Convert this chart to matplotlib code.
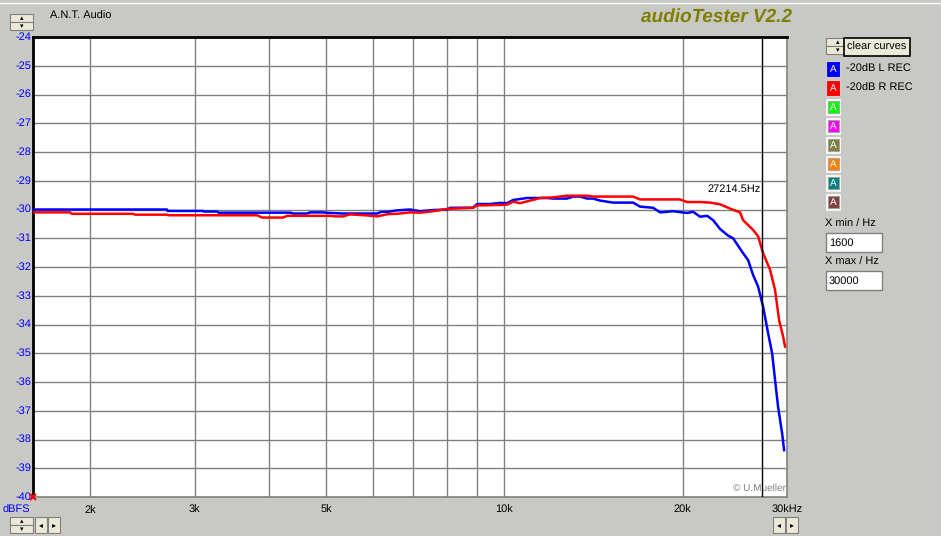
import numpy as np
import matplotlib
matplotlib.use('Agg')
import matplotlib.pyplot as plt
from matplotlib.patches import Rectangle

plt.rcParams['font.family'] = ['Liberation Sans', 'DejaVu Sans']
plt.rcParams['text.hinting'] = 'no_hinting'
plt.rcParams['text.hinting_factor'] = 1

# measured response, frequency in Hz / level in dBFS
blue_f = [1600, 2694, 2700, 3099, 3110, 3272, 3290, 4346, 4400, 4643, 4700, 4941, 5077, 5341,
          6096, 6200, 6361, 6588, 6930, 7205, 7578, 8002, 8100, 8853, 8992, 9458, 9832, 10104,
          10343, 10921, 11803, 12083, 12760, 13061, 13421, 13792, 14117, 14506, 15258, 16491,
          16944, 17824, 18320, 19264, 20344, 20824, 21398, 21990, 22509, 23131, 23861, 24328,
          25194, 25790, 26296, 26811, 27339, 27875, 28314, 28640, 28976, 29440, 29664]
blue_db = [-30.0, -30.0, -30.05, -30.05, -30.07, -30.07, -30.11, -30.11, -30.14, -30.14, -30.1,
           -30.1, -30.12, -30.14, -30.14, -30.08, -30.08, -30.03, -30.0, -30.06, -30.02, -30.0,
           -29.94, -29.94, -29.81, -29.81, -29.77, -29.78, -29.67, -29.6, -29.6, -29.62, -29.62,
           -29.55, -29.55, -29.62, -29.62, -29.69, -29.76, -29.76, -29.9, -29.94, -30.1, -30.06,
           -30.12, -30.08, -30.25, -30.22, -30.37, -30.68, -30.91, -31.0, -31.47, -31.76, -32.28,
           -32.68, -33.38, -34.3, -35.0, -35.93, -36.86, -37.79, -38.37]

red_f = [1600, 1848, 1860, 2360, 2380, 2694, 2710, 3822, 3900, 4229, 4300, 5077, 5200, 5341,
         5488, 5817, 6096, 6361, 6588, 6930, 7205, 7578, 8002, 8853, 8992, 9832, 10104, 10343,
         10627, 10921, 11488, 12083, 12760, 13792, 14117, 15258, 16491, 16944, 19798, 20344,
         21398, 22248, 23131, 24048, 24998, 25293, 26296, 26811, 27339, 28094, 28640, 29088,
         29552, 29776]
red_db = [-30.1, -30.1, -30.15, -30.15, -30.18, -30.18, -30.2, -30.2, -30.28, -30.28, -30.22,
          -30.22, -30.24, -30.24, -30.17, -30.2, -30.24, -30.16, -30.15, -30.1, -30.11, -30.06,
          -29.98, -29.94, -29.86, -29.84, -29.83, -29.73, -29.78, -29.72, -29.6, -29.58, -29.52,
          -29.52, -29.55, -29.55, -29.55, -29.65, -29.65, -29.74, -29.74, -29.76, -29.82, -29.97,
          -30.1, -30.37, -30.71, -30.93, -31.52, -32.1, -32.8, -33.84, -34.42, -34.77]

curve_names = ['-20dB L REC', '-20dB R REC']
slot_colors = ['#0000ff', '#ff0000', '#00ff00', '#ff00ff', '#808040', '#ff8000', '#008080', '#804040']

x_min, x_max = 1600, 30000
y_min, y_max = -40, -24
x_grid = [2000, 3000, 4000, 5000, 6000, 7000, 8000, 9000, 10000, 20000]
x_labels = {2000: '2k', 3000: '3k', 5000: '5k', 10000: '10k', 20000: '20k', 30000: '30kHz'}
cursor_f = 27214.5

W, H = 941, 536
bg = '#c8c8c4'
fs = 8
fig = plt.figure(figsize=(W / 100, H / 100), dpi=100, facecolor=bg)

# full-figure pixel axes for the window chrome
ui = fig.add_axes([0, 0, 1, 1], zorder=0)
ui.set_xlim(0, W)
ui.set_ylim(H, 0)
ui.axis('off')
ui.axhline(3, color='white', lw=1)


def button(x, y, w, h, face='#ece9d8', edge='#808080'):
    ui.add_patch(Rectangle((x, y), w, h, facecolor=face, edgecolor=edge, lw=0.8))


def spinner(x, y):
    button(x, y, 23, 8)
    button(x, y + 8, 23, 8)
    ui.text(x + 11.5, y + 4, '▴', fontsize=5, ha='center', va='center')
    ui.text(x + 11.5, y + 12, '▾', fontsize=5, ha='center', va='center')


def arrows(x, y):
    button(x, y, 12, 16)
    button(x + 13, y, 12, 16)
    ui.text(x + 6, y + 8, '◂', fontsize=6, ha='center', va='center')
    ui.text(x + 19, y + 8, '▸', fontsize=6, ha='center', va='center')


spinner(10, 14)
spinner(10, 517)
arrows(35, 517)
arrows(773, 517)
spinner(826, 38)

ui.text(50, 16, 'A.N.T. Audio', fontsize=fs, va='center', ha='left')
ui.text(792, 17, 'audioTester V2.2', fontsize=14, fontweight='bold', fontstyle='italic',
        color='#808000', va='center', ha='right')

# clear curves button
ui.add_patch(Rectangle((844, 38), 66, 18, facecolor='#ece9d8', edgecolor='black', lw=1.2))
ui.text(877, 47, 'clear curves', fontsize=fs, ha='center', va='center')

# curve slots
for i, c in enumerate(slot_colors):
    y0 = 61 + i * 19
    if i < 2:
        ui.add_patch(Rectangle((826, y0), 14, 16, facecolor=c, edgecolor='#d0d0d0', lw=0.8))
        ui.text(846, y0 + 8, curve_names[i], fontsize=fs, va='center', ha='left')
    else:
        ui.add_patch(Rectangle((826, y0), 15, 17, facecolor='#f4f4f4', edgecolor='none'))
        ui.add_patch(Rectangle((828, y0 + 2), 11, 12, facecolor=c, edgecolor='#a0a0a0', lw=0.6))
    ui.text(833.5, y0 + 8, 'A', fontsize=7, color='white', ha='center', va='center')

# axis range boxes
ui.text(825, 224, 'X min / Hz', fontsize=fs, va='center', ha='left')
ui.add_patch(Rectangle((826, 233), 56, 19, facecolor='white', edgecolor='#808080', lw=1))
ui.text(829, 243, str(x_min), fontsize=fs, va='center', ha='left')
ui.text(825, 262, 'X max / Hz', fontsize=fs, va='center', ha='left')
ui.add_patch(Rectangle((826, 271), 56, 19, facecolor='white', edgecolor='#808080', lw=1))
ui.text(829, 281, str(x_max), fontsize=fs, va='center', ha='left')

# main plot area
L, T, R, B = 33, 37, 787, 497
ax = fig.add_axes([L / W, 1 - B / H, (R - L) / W, (B - T) / H], zorder=1)
ax.set_facecolor('white')
ax.set_xscale('log')
ax.set_xlim(x_min, x_max)
ax.set_ylim(y_min, y_max)

for f in x_grid:
    ax.axvline(f, color='#808080', lw=1.0, zorder=1)
for v in range(y_min + 1, y_max):
    ax.axhline(v, color='#808080', lw=1.0, zorder=1)

ax.plot(blue_f, blue_db, color='#0000ff', lw=1.8, zorder=3)
ax.plot(red_f, red_db, color='#ff0000', lw=1.8, zorder=3)

ax.axvline(cursor_f, color='black', lw=1, zorder=4)
ax.text(cursor_f * 0.995, -29.3, '%.1fHz' % cursor_f, fontsize=fs, ha='right', va='center', zorder=5)
ax.text(x_max * 0.995, -39.7, '© U.Mueller', fontsize=7.5, color='#808080', ha='right', va='center')
ax.plot([x_min], [y_min], marker='x', color='red', ms=4, mew=1.5, clip_on=False, zorder=5)

ax.set_xticks([])
ax.set_yticks([])
ax.minorticks_off()
for s in ['left', 'top']:
    ax.spines[s].set_color('black')
    ax.spines[s].set_linewidth(2)
ax.spines['bottom'].set_color('#808080')
ax.spines['right'].set_color('#808080')
ax.spines['bottom'].set_linewidth(1.2)
ax.spines['right'].set_linewidth(1.2)

# tick labels drawn in window pixel space
for v in range(y_min, y_max + 1):
    py = T + (y_max - v) * (B - T) / (y_max - y_min)
    ui.text(31, py, str(v), fontsize=fs, color='#0000ff', ha='right', va='center')
ui.text(3, 510, 'dBFS', fontsize=fs, color='#0000ff', ha='left', va='center')
for f, lab in x_labels.items():
    px = L + np.log(f / x_min) / np.log(x_max / x_min) * (R - L)
    ui.text(px, 510, lab, fontsize=fs, ha='center', va='center')

plt.savefig('out.png', dpi=100, facecolor=bg)
